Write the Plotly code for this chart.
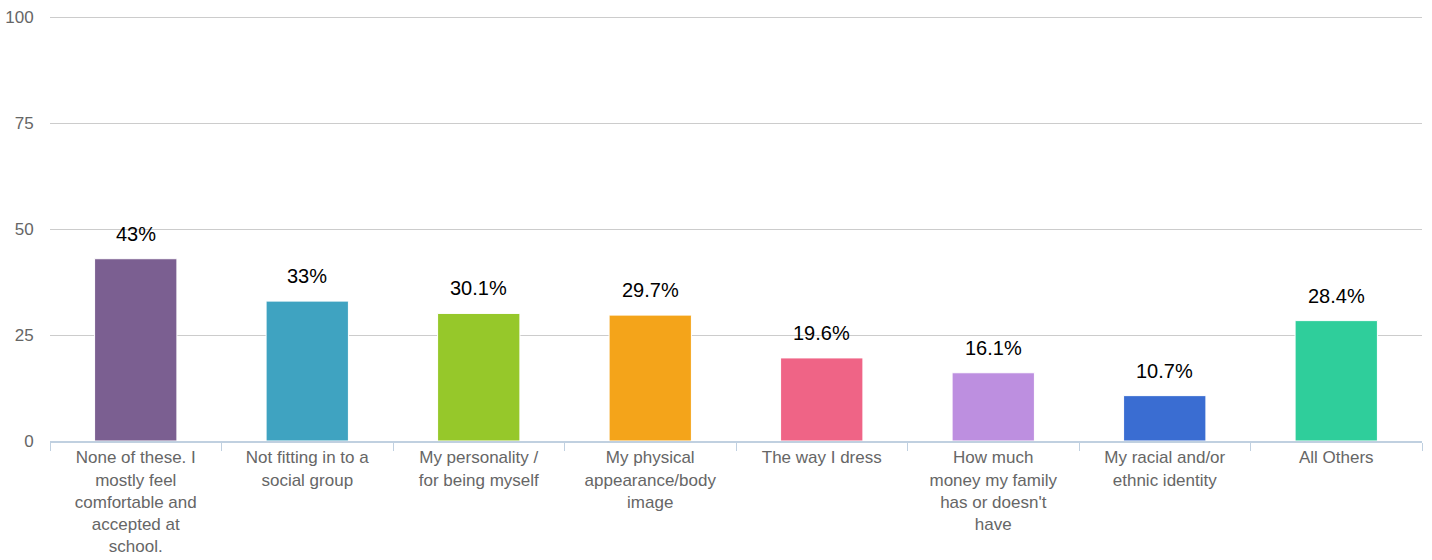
import plotly.graph_objects as go

categories = [
    "None of these. I<br>mostly feel<br>comfortable and<br>accepted at<br>school.",
    "Not fitting in to a<br>social group",
    "My personality /<br>for being myself",
    "My physical<br>appearance/body<br>image",
    "The way I dress",
    "How much<br>money my family<br>has or doesn't<br>have",
    "My racial and/or<br>ethnic identity",
    "All Others",
]
values = [43, 33, 30.1, 29.7, 19.6, 16.1, 10.7, 28.4]
colors = ["#7b5f91", "#3fa3c1", "#96c82a", "#f4a41a", "#ef6486", "#bd8fe0", "#3a6dd2", "#2fce9b"]
y_ticks = [0, 25, 50, 75, 100]

FONT = "Liberation Sans, Arial, Helvetica, sans-serif"

fig = go.Figure(go.Bar(
    x=categories, y=values,
    marker=dict(color=colors, line=dict(color="white", width=1)),
    width=0.48,
))

for c, v in zip(categories, values):
    fig.add_annotation(
        x=c, y=v, text=f"{v:g}%", showarrow=False, yanchor="bottom", yshift=12,
        font=dict(family=FONT, size=20, color="#000000"),
    )

fig.update_layout(
    width=1432, height=560,
    margin=dict(l=50, r=10, t=15, b=119),
    plot_bgcolor="white", paper_bgcolor="white",
    showlegend=False,
    font=dict(family=FONT, color="#666666"),
)
fig.update_yaxes(
    range=[0, 100.5], tickvals=y_ticks, showgrid=True, gridcolor="#cccccc", gridwidth=1,
    zeroline=False, showline=False, ticks="outside", ticklen=12, tickcolor="rgba(0,0,0,0)",
    tickfont=dict(size=17, color="#666666"), automargin=False,
)
fig.update_xaxes(
    showline=True, linecolor="#c0d0e0", linewidth=2,
    ticks="outside", tickson="boundaries", ticklen=8, tickcolor="#c0d0e0",
    tickfont=dict(size=17, color="#666666"), tickangle=0, automargin=False,
)

fig.write_html("out.html", config={"displayModeBar": False},
               post_script="document.body.style.margin='0px';")
